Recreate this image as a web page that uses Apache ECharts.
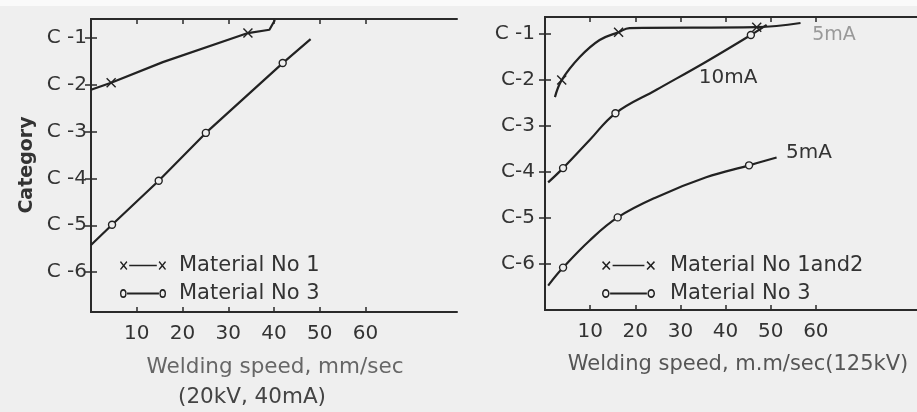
<!DOCTYPE html>
<html>
<head>
<meta charset="utf-8">
<script src="https://cdn.jsdelivr.net/npm/echarts@6/dist/echarts.min.js"></script>
<style>
html,body{margin:0;padding:0;background:#efefef;}
#c{width:917px;height:412px;}
</style>
</head>
<body>
<div id="c"></div>
<script>
// ---- Data ----
// Category axis labels (value 1..6 => C-1..C-6)
const leftYLabels = ['C -1', 'C -2', 'C -3', 'C -4', 'C -5', 'C -6'];
const rightYLabels = ['C -1', 'C-2', 'C-3', 'C-4', 'C-5', 'C-6'];
const xTickValues = [10, 20, 30, 40, 50, 60];
const yTickValues = [1, 2, 3, 4, 5, 6];

// Left panel (20kV, 40mA)
const leftMat1X = [0, 4.4, 15.7, 34.3, 39.0, 40.2];
const leftMat1Y = [2.11, 1.96, 1.52, 0.90, 0.83, 0.62];
const leftMat1Mark = [0, 1, 0, 1, 0, 0];

const leftMat3X = [0, 4.6, 14.8, 25.1, 41.9, 48.0];
const leftMat3Y = [5.42, 4.99, 4.05, 3.03, 1.54, 1.03];
const leftMat3Mark = [0, 1, 1, 1, 1, 0];

// Right panel (125kV)
const rightMat12X = [2.2, 3.7, 7.7, 12.1, 16.3, 18.7, 46.9, 56.6];
const rightMat12Y = [2.38, 2.01, 1.51, 1.14, 0.97, 0.88, 0.86, 0.77];
const rightMat12Mark = [0, 1, 0, 0, 1, 0, 1, 0];

const rightMat3_10X = [0.7, 4.0, 9.9, 15.6, 24.7, 35.7, 45.6, 49.1];
const rightMat3_10Y = [4.23, 3.92, 3.31, 2.73, 2.22, 1.61, 1.03, 0.81];
const rightMat3_10Mark = [0, 1, 0, 1, 0, 0, 1, 0];

const rightMat3_5X = [0.7, 4.0, 9.9, 16.1, 24.7, 35.7, 45.2, 51.3];
const rightMat3_5Y = [6.47, 6.08, 5.49, 4.99, 4.55, 4.12, 3.86, 3.69];
const rightMat3_5Mark = [0, 1, 0, 1, 0, 0, 1, 0];

// ---- Styling ----
const FONT = '"DejaVu Sans", "Liberation Sans", sans-serif';
const INK = '#222';
const BG = '#efefef';
const CROSS = 'path://M0,1L1,0L5,4L9,0L10,1L6,5L10,9L9,10L5,6L1,10L0,9L4,5Z';
const ICON_X = 'path://M0,2L1,1L4,4L7,1L8,2L5,5L8,8L7,9L4,6L1,9L0,8L3,5Z' +
  'M10,4.3L40,4.3L40,5.7L10,5.7Z' +
  'M42,2L43,1L46,4L49,1L50,2L47,5L50,8L49,9L46,6L43,9L42,8L45,5Z';
const ICON_O = 'path://M0.5,5A3.5,3.5 0 1 1 7.5,5A3.5,3.5 0 1 1 0.5,5Z' +
  'M1.9,5A2.1,2.1 0 1 0 6.1,5A2.1,2.1 0 1 0 1.9,5Z' +
  'M8,4.3L42,4.3L42,5.7L8,5.7Z' +
  'M42.5,5A3.5,3.5 0 1 1 49.5,5A3.5,3.5 0 1 1 42.5,5Z' +
  'M43.9,5A2.1,2.1 0 1 0 48.1,5A2.1,2.1 0 1 0 43.9,5Z';

function buildData(xs, ys, marks, sym) {
  return xs.map((x, i) => ({ value: [x, ys[i]], symbol: marks[i] ? sym : 'none' }));
}

function xAxisPair(gridIndex, max) {
  const base = {
    type: 'value', gridIndex, min: 0, max,
    splitLine: { show: false },
    axisLine: { show: true, lineStyle: { color: '#2a2a2a', width: 2 } },
    axisTick: { show: true, inside: true, length: 5, customValues: xTickValues, lineStyle: { color: '#2a2a2a', width: 1.5 } }
  };
  return [
    Object.assign({}, base, {
      position: 'bottom',
      axisLabel: { show: true, customValues: xTickValues, margin: 12, color: '#333', fontSize: 20, fontFamily: FONT }
    }),
    Object.assign({}, base, { position: 'top', axisLabel: { show: false } })
  ];
}

function yAxisPair(gridIndex, min, max, labels, margin) {
  const base = {
    type: 'value', gridIndex, min, max, inverse: true,
    splitLine: { show: false },
    axisLine: { show: true, lineStyle: { color: '#2a2a2a', width: 2 } },
    axisTick: { show: true, inside: true, length: 6, customValues: yTickValues, lineStyle: { color: '#2a2a2a', width: 1.5 } }
  };
  return [
    Object.assign({}, base, {
      position: 'left',
      axisLabel: {
        show: true, customValues: yTickValues, margin, color: '#333', fontSize: 20, fontFamily: FONT,
        formatter: v => labels[Math.round(v) - 1]
      }
    }),
    Object.assign({}, base, { position: 'right', axisLabel: { show: false } })
  ];
}

function lineSeries(name, xi, yi, data, sym, size, smooth) {
  const isCircle = sym === 'circle';
  return {
    name, type: 'line', xAxisIndex: xi, yAxisIndex: yi, data,
    symbol: sym, symbolSize: size, showSymbol: true, smooth,
    lineStyle: { color: INK, width: 2.2 },
    itemStyle: isCircle ? { color: BG, borderColor: INK, borderWidth: 1.4 } : { color: INK },
    emphasis: { disabled: true },
    z: 3
  };
}

const chart = echarts.init(document.getElementById('c'), null, { renderer: 'canvas' });

const legendCommon = {
  orient: 'vertical', itemGap: 7, selectedMode: false,
  symbolKeepAspect: false,
  itemStyle: { color: INK, borderWidth: 0 },
  textStyle: { color: '#333', fontSize: 21, fontFamily: FONT, lineHeight: 20 }
};

chart.setOption({
  backgroundColor: BG,
  animation: false,
  grid: [
    { left: 91, top: 19, width: 366, height: 293 },
    { left: 545, top: 17, width: 374, height: 293 }
  ],
  xAxis: [].concat(xAxisPair(0, 80), xAxisPair(1, 82.4)),
  yAxis: [].concat(yAxisPair(0, 0.6, 6.85, leftYLabels, 4), yAxisPair(1, 0.64, 7.0, rightYLabels, 10)),
  legend: [
    Object.assign({}, legendCommon, {
      left: 115, top: 250, itemWidth: 46, itemHeight: 9,
      textStyle: Object.assign({}, legendCommon.textStyle, { padding: [0, 0, 0, 8] }),
      data: [{ name: 'Material No 1', icon: ICON_X }, { name: 'Material No 3', icon: ICON_O }]
    }),
    Object.assign({}, legendCommon, {
      left: 597, top: 250, itemWidth: 53, itemHeight: 9,
      textStyle: Object.assign({}, legendCommon.textStyle, { padding: [0, 0, 0, 10] }),
      data: [{ name: 'Material No 1and2', icon: ICON_X }, { name: 'Material No 3', icon: ICON_O }]
    })
  ],
  series: [
    lineSeries('Material No 1', 0, 0, buildData(leftMat1X, leftMat1Y, leftMat1Mark, CROSS), CROSS, 10, false),
    lineSeries('Material No 3', 0, 0, buildData(leftMat3X, leftMat3Y, leftMat3Mark, 'circle'), 'circle', 7, false),
    lineSeries('Material No 1and2', 2, 2, buildData(rightMat12X, rightMat12Y, rightMat12Mark, CROSS), CROSS, 10, 0.4),
    lineSeries('Material No 3', 2, 2, buildData(rightMat3_10X, rightMat3_10Y, rightMat3_10Mark, 'circle'), 'circle', 7, 0.4),
    lineSeries('Material No 3', 2, 2, buildData(rightMat3_5X, rightMat3_5Y, rightMat3_5Mark, 'circle'), 'circle', 7, 0.4)
  ],
  graphic: [
    { type: 'rect', shape: { x: 0, y: 0, width: 917, height: 6 }, style: { fill: '#fafafa' }, silent: true },
    { type: 'text', x: 27, y: 165, rotation: Math.PI / 2,
      style: { text: 'Category', font: 'bold 19px ' + FONT, fill: '#333', textAlign: 'center', textVerticalAlign: 'middle' } },
    { type: 'text', x: 275, y: 367,
      style: { text: 'Welding speed, mm/sec', font: '21.5px ' + FONT, fill: '#666', textAlign: 'center', textVerticalAlign: 'middle' } },
    { type: 'text', x: 252, y: 397,
      style: { text: '(20kV, 40mA)', font: '21.5px ' + FONT, fill: '#444', textAlign: 'center', textVerticalAlign: 'middle' } },
    { type: 'text', x: 738, y: 365,
      style: { text: 'Welding speed, m.m/sec(125kV)', font: '21px ' + FONT, fill: '#555', textAlign: 'center', textVerticalAlign: 'middle' } },
    { type: 'text', x: 834, y: 35,
      style: { text: '5mA', font: '19px ' + FONT, fill: '#999', textAlign: 'center', textVerticalAlign: 'middle' } },
    { type: 'text', x: 728, y: 78,
      style: { text: '10mA', font: '20px ' + FONT, fill: '#333', textAlign: 'center', textVerticalAlign: 'middle' } },
    { type: 'text', x: 809, y: 153,
      style: { text: '5mA', font: '20px ' + FONT, fill: '#333', textAlign: 'center', textVerticalAlign: 'middle' } }
  ]
});
</script>
</body>
</html>
